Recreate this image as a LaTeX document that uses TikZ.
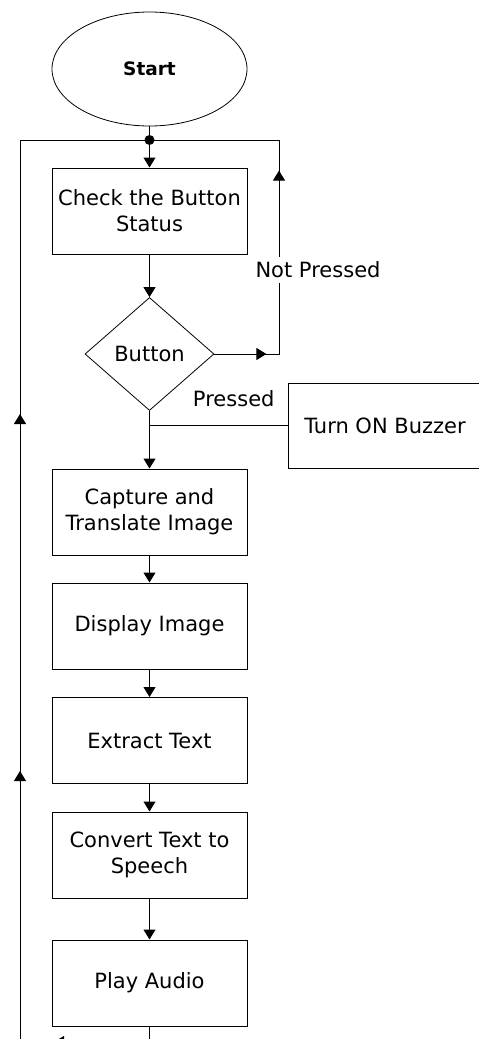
\documentclass[tikz,border=0pt]{standalone}
\usepackage{fontspec}
\setmainfont{DejaVu Sans}
\usetikzlibrary{shapes.geometric,arrows.meta,decorations.markings}
\begin{document}
\begin{tikzpicture}[x=1pt,y=-1pt, line width=1pt,
  mytri/.tip={Triangle[length=10pt,width=12pt]},
  txt/.style={font=\fontsize{21}{26}\selectfont},
  box/.style={draw, rectangle, minimum width=195pt, minimum height=86pt, align=center, inner sep=0pt, txt},
  lbl/.style={txt, inner sep=2pt}]
\useasboundingbox (0,0) rectangle (479,1039);

\node[draw, line width=0.8pt, ellipse, minimum width=195pt, minimum height=114pt, font=\bfseries\fontsize{18.5}{22}\selectfont] (start) at (149.5,69) {Start};
\coordinate (j) at (149.5,140);
\node[box] (b1) at (149.5,211) {Check the Button\\Status};
\node[draw, line width=0.8pt, diamond, minimum width=129pt, minimum height=113pt, inner sep=0pt, txt] (dec) at (149.5,354) {Button};
\node[box, minimum width=194pt, minimum height=85pt] (buz) at (385,425.5) {Turn ON Buzzer};
\node[box] (b2) at (149.5,512) {Capture and\\Translate Image};
\node[box] (b3) at (149.5,626) {Display Image};
\node[box] (b4) at (149.5,740.5) {Extract Text};
\node[box] (b5) at (149.5,855) {Convert Text to\\Speech};
\node[box] (b6) at (149.5,983) {Play Audio};

\coordinate (npc) at (279,354);
\coordinate (nptop) at (279,140);
\coordinate (rb) at (149.5,1042);
\coordinate (lb) at (20,1042);
\coordinate (lt) at (20,140);

\draw (start) -- (j);
\fill (j) circle (5pt);
\draw[-mytri] (j) -- (b1);
\draw[-mytri] (b1) -- (dec);

\draw[postaction={decorate}, decoration={markings,
   mark=at position 52pt with {\arrow{mytri}},
   mark=at position 248pt with {\arrow{mytri}}}]
  (dec.east) -- (npc) -- (nptop) -- (j);
\node[lbl, fill=white, inner sep=5pt] (np) at (318,270) {Not Pressed};

\draw[-mytri] (dec.south) -- (b2.north);
\draw (buz.west) -- (buz.west -| dec.south);
\node[lbl, anchor=east] (pr) at (277,399) {Pressed};

\draw[-mytri] (b2) -- (b3);
\draw[-mytri] (b3) -- (b4);
\draw[-mytri] (b4) -- (b5);
\draw[-mytri] (b5) -- (b6);

\draw[postaction={decorate}, decoration={markings,
   mark=at position 111pt with {\arrow{mytri}},
   mark=at position 416pt with {\arrow{mytri}},
   mark=at position 773pt with {\arrow{mytri}}}]
  (b6.south) -- (rb) -- (lb) -- (lt) -- (j);
\end{tikzpicture}
\end{document}
